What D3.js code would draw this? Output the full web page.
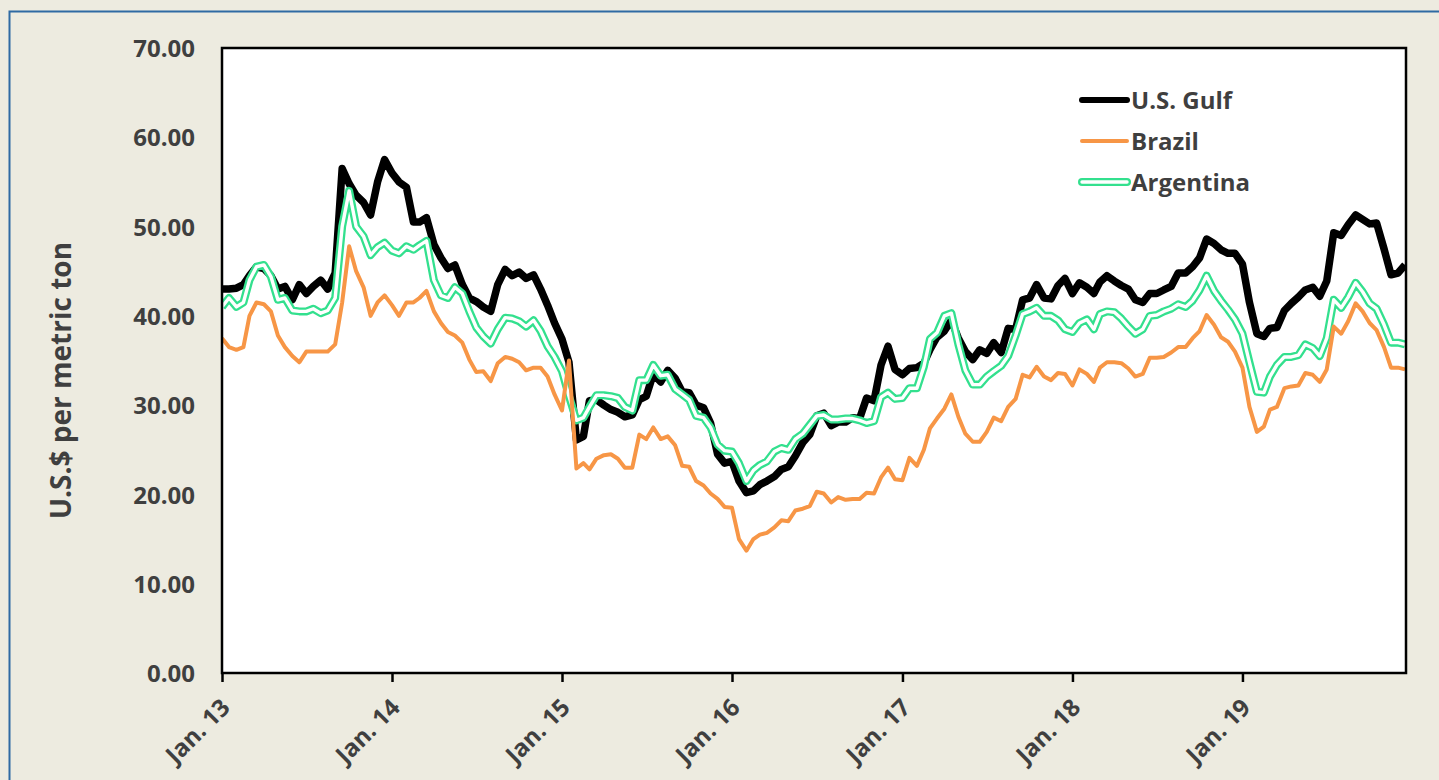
<!DOCTYPE html>
<html><head><meta charset="utf-8">
<script src="https://cdn.jsdelivr.net/npm/d3@7"></script>
<style>
html,body{margin:0;padding:0;background:#EDEBE0;}
svg{display:block;}
text{font-family:"Open Sans", sans-serif;font-weight:700;fill:#3F3F3F;}
</style></head><body>
<svg id="c" width="1439" height="780"></svg>
<script>
const seriesNames = ["U.S. Gulf", "Brazil", "Argentina"];
const yTicks = [0, 10, 20, 30, 40, 50, 60, 70];
const xTickLabels = ["Jan. 13", "Jan. 14", "Jan. 15", "Jan. 16", "Jan. 17", "Jan. 18", "Jan. 19"];
const yTitle = "U.S.$ per metric ton";
const startYear = 2013;

// semi-monthly observations (1st and 16th of each month), Jan 2013 - Dec 2019
const usGulf = [
 43.0,43.0,43.1,43.5,44.5,45.5,45.3,44.5,43.0,43.3,
 41.8,43.5,42.5,43.3,44.0,43.0,44.8,56.5,54.8,53.5,
 52.7,51.3,55.0,57.5,56.0,55.0,54.4,50.5,50.5,51.0,
 48.0,46.5,45.3,45.7,43.5,42.0,41.6,41.0,40.5,43.5,
 45.2,44.5,44.9,44.2,44.6,43.0,41.2,39.2,37.4,34.8,
 26.1,26.5,30.5,30.6,30.0,29.5,29.2,28.7,28.9,30.6,
 31.0,33.5,32.6,33.9,33.0,31.5,31.4,30.0,29.7,28.0,
 24.5,23.5,23.7,21.5,20.2,20.4,21.1,21.5,22.0,22.8,
 23.1,24.3,25.8,26.7,28.8,29.1,27.7,28.1,28.1,28.6,
 28.5,30.8,30.5,34.5,36.6,34.0,33.4,34.1,34.2,34.7,
 36.2,37.6,38.3,39.5,37.5,36.0,35.1,36.2,35.8,37.0,
 35.9,38.6,38.5,41.8,42.0,43.5,42.0,41.9,43.4,44.2,
 42.5,43.7,43.2,42.5,43.8,44.5,43.9,43.4,43.0,41.8,
 41.5,42.5,42.5,42.9,43.3,44.8,44.8,45.5,46.5,48.6,
 48.1,47.4,47.0,47.0,45.8,41.5,38.0,37.7,38.6,38.7,
 40.6,41.4,42.1,42.9,43.2,42.2,43.9,49.3,49.0,50.2,
 51.3,50.8,50.3,50.4,47.5,44.6,44.8,45.7
];
const brazil = [
 37.5,36.5,36.2,36.5,40.0,41.5,41.3,40.5,37.8,36.5,
 35.5,34.8,36.0,36.0,36.0,36.0,36.8,41.5,47.8,45.0,
 43.2,40.0,41.5,42.3,41.2,40.0,41.5,41.5,42.0,42.8,
 40.5,39.2,38.2,37.8,37.0,35.1,33.7,33.8,32.7,34.7,
 35.4,35.2,34.8,33.9,34.2,34.2,33.2,31.2,29.4,35.0,
 22.9,23.5,22.8,24.0,24.4,24.5,24.0,23.0,23.0,26.7,
 26.2,27.5,26.2,26.5,25.5,23.2,23.1,21.5,21.0,20.1,
 19.5,18.6,18.5,15.0,13.7,15.0,15.5,15.7,16.3,17.1,
 17.0,18.2,18.4,18.7,20.3,20.1,19.1,19.7,19.4,19.5,
 19.5,20.2,20.1,21.9,23.0,21.7,21.6,24.1,23.2,25.0,
 27.4,28.5,29.6,31.2,28.7,26.8,25.9,25.9,27.0,28.6,
 28.2,29.8,30.7,33.4,33.1,34.3,33.2,32.8,33.6,33.5,
 32.2,34.0,33.5,32.6,34.2,34.8,34.8,34.7,34.1,33.2,
 33.5,35.3,35.3,35.4,35.9,36.5,36.5,37.5,38.3,40.1,
 39.0,37.6,37.1,36.0,34.2,29.8,27.0,27.6,29.5,29.8,
 31.9,32.1,32.2,33.6,33.4,32.6,34.0,38.8,38.0,39.4,
 41.4,40.5,39.2,38.4,36.5,34.2,34.2,34.0
];
const argentina = [
 41.0,42.0,41.0,41.5,44.0,45.5,45.7,44.4,41.8,42.0,
 40.6,40.5,40.5,40.8,40.3,40.6,42.0,50.0,54.0,50.0,
 48.9,46.8,47.7,48.2,47.3,47.0,47.8,47.4,47.9,48.4,
 44.0,42.3,42.0,43.2,42.5,40.5,38.7,37.7,36.9,38.5,
 39.8,39.7,39.4,38.8,39.5,38.3,36.6,35.4,33.8,31.0,
 28.3,28.6,29.8,31.1,31.1,31.0,30.8,29.8,29.4,32.8,
 32.8,34.5,33.3,33.4,31.8,31.2,30.6,28.8,28.6,27.5,
 25.6,24.9,24.8,23.5,21.5,22.7,23.3,23.7,24.8,25.2,
 25.0,26.2,26.8,27.8,28.8,28.9,28.4,28.4,28.5,28.5,
 28.3,28.0,28.2,30.9,31.4,30.7,30.8,31.9,31.9,34.3,
 37.4,38.1,40.0,40.3,36.8,33.9,32.3,32.3,33.2,33.8,
 34.4,35.5,37.8,40.2,40.5,40.9,40.0,40.0,39.5,38.5,
 38.2,39.2,39.6,38.5,40.2,40.5,40.4,39.7,38.8,38.0,
 38.5,40.0,40.1,40.5,40.8,41.3,41.0,41.7,42.9,44.5,
 42.8,41.7,40.7,39.6,38.0,34.8,31.5,31.4,33.2,34.5,
 35.4,35.4,35.6,36.8,36.4,35.5,37.5,41.8,40.9,42.1,
 43.7,42.7,41.4,40.8,39.0,37.0,37.0,36.8
];

const dates = usGulf.map((_, i) => new Date(startYear + Math.floor(i / 24), Math.floor((i % 24) / 2), i % 2 ? 16 : 1));
const yearTicks = xTickLabels.map((_, k) => new Date(startYear + k, 0, 1));

const svg = d3.select("#c");
const P = {left: 222, top: 48, right: 1406, bottom: 673};

// outer frame
svg.append("rect").attr("x", 9.5).attr("y", 11.5).attr("width", 1460).attr("height", 800)
  .attr("fill", "#EDEBE0").attr("stroke", "#2F6AA3").attr("stroke-width", 2);

// plot area
svg.append("rect").attr("x", P.left).attr("y", P.top)
  .attr("width", P.right - P.left).attr("height", P.bottom - P.top)
  .attr("fill", "#ffffff");

const x = d3.scaleTime().domain([dates[0], dates[dates.length - 1]]).range([P.left, P.right - 1]);
const y = d3.scaleLinear().domain([0, 70]).range([P.bottom, P.top]);

// y axis labels
const yAxis = d3.axisLeft(y).tickValues(yTicks).tickSize(0).tickPadding(27).tickFormat(d3.format(".2f"));
const gy = svg.append("g").attr("transform", `translate(${P.left},0)`).call(yAxis);
gy.select(".domain").remove();
gy.selectAll("text").style("font-size", "24px").attr("fill", "#3F3F3F").attr("dy", "0.36em");

// x axis
const xAxis = d3.axisBottom(x).tickValues(yearTicks).tickSize(9).tickFormat((d, i) => xTickLabels[i]);
const gx = svg.append("g").attr("transform", `translate(0,${P.bottom})`).call(xAxis);
gx.select(".domain").remove();
gx.selectAll(".tick line").attr("stroke", "#000").attr("stroke-width", 2.5);
gx.selectAll("text").style("font-size", "24px").attr("fill", "#3F3F3F")
  .attr("x", 0).attr("y", 0).attr("dy", "0.35em")
  .attr("text-anchor", "end")
  .attr("transform", "translate(3,30) rotate(-45)");

// lines
const line = d3.line().x((d, i) => x(dates[i])).y(d => y(d)).curve(d3.curveLinear);
const clip = svg.append("clipPath").attr("id", "pc").append("rect")
  .attr("x", P.left).attr("y", P.top).attr("width", P.right - P.left).attr("height", P.bottom - P.top);
const gl = svg.append("g").attr("clip-path", "url(#pc)");

gl.append("path").datum(usGulf).attr("d", line).attr("fill", "none")
  .attr("stroke", "#000").attr("stroke-width", 7.5).attr("stroke-linejoin", "round");
gl.append("path").datum(argentina).attr("d", line).attr("fill", "none")
  .attr("stroke", "#33E08E").attr("stroke-width", 8).attr("stroke-linejoin", "round");
gl.append("path").datum(argentina).attr("d", line).attr("fill", "none")
  .attr("stroke", "#ffffff").attr("stroke-width", 3.4).attr("stroke-linejoin", "round");
gl.append("path").datum(brazil).attr("d", line).attr("fill", "none")
  .attr("stroke", "#F79646").attr("stroke-width", 4).attr("stroke-linejoin", "round");

// plot border
svg.append("rect").attr("x", P.left).attr("y", P.top)
  .attr("width", P.right - P.left).attr("height", P.bottom - P.top)
  .attr("fill", "none").attr("stroke", "#000").attr("stroke-width", 2.5);

// y title
svg.append("text").attr("transform", `translate(71,${(P.top + P.bottom) / 2 + 20}) rotate(-90)`)
  .attr("text-anchor", "middle").style("font-size", "28px").text(yTitle);

// legend
const legY = [100, 141, 182];
const lg = svg.append("g");
const lx0 = 1082, lx1 = 1127;
lg.append("line").attr("x1", lx0).attr("x2", lx1).attr("y1", legY[0]).attr("y2", legY[0])
  .attr("stroke", "#000").attr("stroke-width", 6).attr("stroke-linecap", "round");
lg.append("line").attr("x1", lx0).attr("x2", lx1).attr("y1", legY[1]).attr("y2", legY[1])
  .attr("stroke", "#F79646").attr("stroke-width", 4).attr("stroke-linecap", "round");
lg.append("line").attr("x1", lx0).attr("x2", lx1).attr("y1", legY[2]).attr("y2", legY[2])
  .attr("stroke", "#33E08E").attr("stroke-width", 8).attr("stroke-linecap", "round");
lg.append("line").attr("x1", lx0).attr("x2", lx1).attr("y1", legY[2]).attr("y2", legY[2])
  .attr("stroke", "#fff").attr("stroke-width", 3.4).attr("stroke-linecap", "round");
lg.selectAll("text.leg").data(seriesNames).join("text").attr("class", "leg")
  .attr("x", 1131).attr("y", (d, i) => legY[i]).attr("dy", "0.36em")
  .style("font-size", "24px").text(d => d);
</script>
</body></html>
